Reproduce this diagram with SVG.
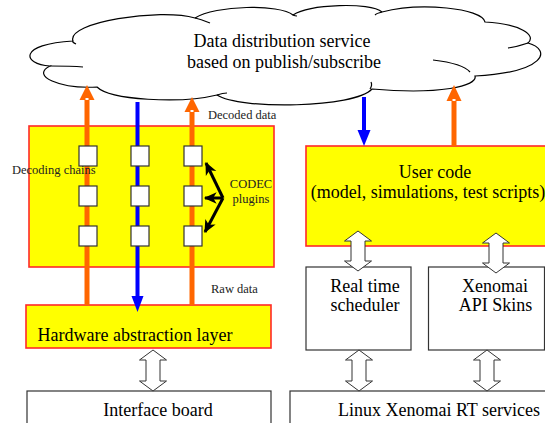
<svg xmlns="http://www.w3.org/2000/svg" width="545" height="423" viewBox="0 0 545 423">
<defs>
<style>
text{font-family:'Liberation Serif','DejaVu Serif',serif}
.t{font-size:18px;fill:#000}
.s{font-size:12.5px;fill:#222}
.yb{fill:#ffff00;stroke:#ff2a2a;stroke-width:1.6}
.wb{fill:#fff;stroke:#333;stroke-width:1.2}
.sq{fill:#fff;stroke:#333;stroke-width:1.2}
.dbl{fill:#fff;stroke:#333;stroke-width:1}
.or{stroke:#ff6600;stroke-width:5;fill:none}
.bl{stroke:#0000ff;stroke-width:4;fill:none}
.cl{fill:#fff;stroke:#000;stroke-width:1.2}
.ci{fill:none;stroke:#000;stroke-width:1.2}
.bk{stroke:#000;stroke-width:3;fill:none}
</style>
<marker id="ah" markerUnits="userSpaceOnUse" markerWidth="14" markerHeight="14" refX="10" refY="5" orient="auto" viewBox="0 0 12 10">
<path d="M0,0 L11,5 L0,10 L3,5 Z" fill="#000"/>
</marker>
</defs>

<g id="cloud">
<path class="cl" d="M50 66 C22 64,18 44,73 41 C66 22,160 8,195 18 C215 5,280 4,293 15 C310 4,370 2,382 12 C420 2,482 8,485 22 C520 24,537 35,528 43 C552 50,546 72,475 76 C478 86,440 95,372 89 C355 108,240 110,217 95 C180 104,110 100,97 87 C60 89,30 76,50 66 Z"/>
<path class="ci" d="M73 41 C72 42,74 43,76 44"/>
<path class="ci" d="M50 66 C60 66,72 66,83 67"/>
<path class="ci" d="M195 18 C200 19,205 21,210 23"/>
<path class="ci" d="M217 95 C220 94,224 93,227 93"/>
<path class="ci" d="M433 60 C450 62,465 66,470 72"/>
<path class="ci" d="M508 48 C515 47,522 45,528 43"/>
<path class="ci" d="M370 89 C372 86,372 84,371 82"/>
<path class="ci" d="M382 12 C378 13,376 14,375 15"/>
<path class="ci" d="M293 15 C295 16,296 16,297 16"/>
<text class="t" font-family="Liberation Serif, serif" x="282" y="47" text-anchor="middle">Data distribution service</text>
<text class="t" font-family="Liberation Serif, serif" x="284" y="68" text-anchor="middle">based on publish/subscribe</text>
</g>

<g id="codec-area">
<rect class="yb" x="29" y="126" width="245" height="141"/>
</g>

<g id="hal">
<rect class="yb" x="26" y="305" width="245" height="43"/>
<text class="t" font-family="Liberation Serif, serif" x="37.5" y="341">Hardware abstraction layer</text>
</g>

<g id="user-code">
<rect class="yb" x="306" y="146" width="260" height="100"/>
<text class="t" font-family="Liberation Serif, serif" x="435" y="178" text-anchor="middle">User code</text>
<text class="t" font-family="Liberation Serif, serif" x="428" y="198" text-anchor="middle">(model, simulations, test scripts)</text>
</g>

<g id="scheduler">
<rect class="wb" x="306" y="267" width="105" height="83"/>
<text class="t" font-family="Liberation Serif, serif" x="365" y="292" text-anchor="middle">Real time</text>
<text class="t" font-family="Liberation Serif, serif" x="365" y="311" text-anchor="middle">scheduler</text>
</g>

<g id="skins">
<rect class="wb" x="428.5" y="267" width="116" height="83"/>
<text class="t" font-family="Liberation Serif, serif" x="495" y="292" text-anchor="middle">Xenomai</text>
<text class="t" font-family="Liberation Serif, serif" x="495.5" y="311" text-anchor="middle">API Skins</text>
</g>

<g id="interface-board">
<rect class="wb" x="27" y="391" width="244" height="40"/>
<text class="t" font-family="Liberation Serif, serif" x="158" y="416" text-anchor="middle">Interface board</text>
</g>

<g id="linux">
<rect class="wb" x="290" y="391" width="262" height="40"/>
<text class="t" font-family="Liberation Serif, serif" x="439" y="416" text-anchor="middle">Linux Xenomai RT services</text>
</g>

<g id="connectors">
<line class="or" x1="87" y1="305" x2="87" y2="99"/>
<polygon points="87,85 79.5,100 94.5,100" fill="#ff6600"/>
<rect x="85.5" y="98" width="3" height="2" fill="#fff"/>
<line class="or" x1="192" y1="305" x2="192" y2="111"/>
<polygon points="192,97 184.5,112 199.5,112" fill="#ff6600"/>
<rect x="190.5" y="110" width="3" height="2" fill="#fff"/>
<line class="bl" x1="137.5" y1="102" x2="137.5" y2="297"/>
<polygon points="137.5,312 131.5,296 143.5,296" fill="#0000ff"/>
<line class="bl" x1="364" y1="97" x2="364" y2="131"/>
<polygon points="364,146 357.5,130 370.5,130" fill="#0000ff"/>
<line class="or" x1="454" y1="146" x2="454" y2="100"/>
<polygon points="454,85 446.5,101 461.5,101" fill="#ff6600"/>
<rect x="452.5" y="99" width="3" height="2" fill="#fff"/>
<path class="dbl" d="M153 350 L166.5 360 L160 360 L160 381 L166.5 381 L153 391 L139.5 381 L146 381 L146 360 L139.5 360 Z"/>
<path class="dbl" d="M359 350 L372.5 360 L366 360 L366 381 L372.5 381 L359 391 L345.5 381 L352 381 L352 360 L345.5 360 Z"/>
<path class="dbl" d="M487 350 L500.5 360 L494 360 L494 381 L500.5 381 L487 391 L473.5 381 L480 381 L480 360 L473.5 360 Z"/>
<path class="dbl" d="M358 231 L371.5 241 L365 241 L365 261 L371.5 261 L358 271 L344.5 261 L351 261 L351 241 L344.5 241 Z"/>
<path class="dbl" d="M496 233 L509.5 243 L503 243 L503 263 L509.5 263 L496 273 L482.5 263 L489 263 L489 243 L482.5 243 Z"/>
<line class="bk" x1="223" y1="198" x2="206" y2="163" marker-end="url(#ah)"/>
<line class="bk" x1="223" y1="198" x2="205" y2="198" marker-end="url(#ah)"/>
<line class="bk" x1="223" y1="198" x2="205" y2="232" marker-end="url(#ah)"/>
</g>

<g id="codecs">
<rect class="sq" x="79" y="146" width="18" height="20"/>
<rect class="sq" x="79" y="186" width="18" height="20"/>
<rect class="sq" x="79" y="226" width="18" height="20"/>
<rect class="sq" x="131" y="146" width="18" height="20"/>
<rect class="sq" x="131" y="186" width="18" height="20"/>
<rect class="sq" x="131" y="226" width="18" height="20"/>
<rect class="sq" x="184" y="146" width="18" height="20"/>
<rect class="sq" x="184" y="186" width="18" height="20"/>
<rect class="sq" x="184" y="226" width="18" height="20"/>
</g>

<g id="labels">
<text class="s" font-family="Liberation Serif, serif" x="208" y="119">Decoded data</text>
<text class="s" font-family="Liberation Serif, serif" x="12" y="174">Decoding chains</text>
<text class="s" font-family="Liberation Serif, serif" x="251" y="188" text-anchor="middle">CODEC</text>
<text class="s" font-family="Liberation Serif, serif" x="251" y="203" text-anchor="middle">plugins</text>
<text class="s" font-family="Liberation Serif, serif" x="211" y="293">Raw data</text>
</g>
</svg>
